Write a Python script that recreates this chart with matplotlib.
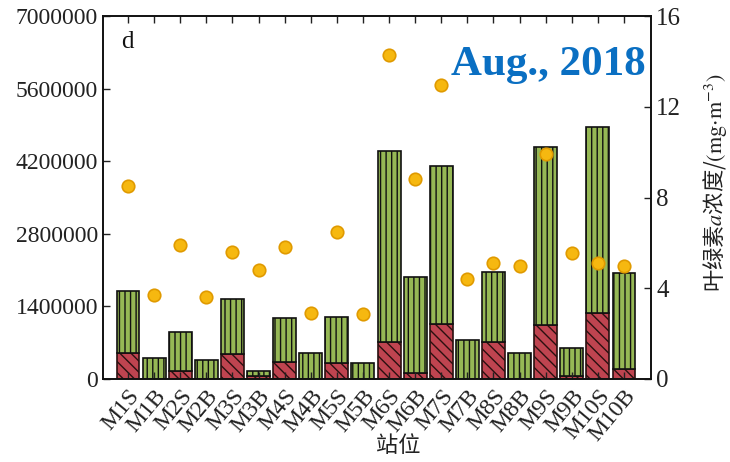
import matplotlib
matplotlib.use("Agg")
import matplotlib.pyplot as plt
import numpy as np

plt.rcParams['font.family'] = ['Liberation Serif', 'Noto Sans CJK SC']
plt.rcParams['mathtext.fontset'] = 'stix'
plt.rcParams['hatch.linewidth'] = 1.0

stations = ["M1S", "M1B", "M2S", "M2B", "M3S", "M3B", "M4S", "M4B", "M5S", "M5B",
            "M6S", "M6B", "M7S", "M7B", "M8S", "M8B", "M9S", "M9B", "M10S", "M10B"]
# total abundance (bar top) and lower (red hatched) part
total = [1700000, 400000, 910000, 370000, 1540000, 150000, 1180000, 500000, 1200000, 310000,
         4400000, 1970000, 4100000, 750000, 2060000, 500000, 4470000, 600000, 4860000, 2040000]
lower = [500000, 0, 150000, 0, 480000, 60000, 330000, 0, 300000, 0,
         710000, 110000, 1060000, 0, 710000, 0, 1040000, 50000, 1270000, 190000]
# chlorophyll a (mg/m3)
chla = [8.5, 3.7, 5.9, 3.6, 5.6, 4.8, 5.8, 2.9, 6.5, 2.85,
        14.3, 8.8, 12.95, 4.4, 5.1, 5.0, 9.9, 5.55, 5.1, 5.0]

x = np.arange(len(stations))
upper = np.array(total) - np.array(lower)

fig = plt.figure(figsize=(7.3, 4.62), dpi=100)
ax = fig.add_axes([0.141, 0.180, 0.751, 0.785])

ax.bar(x, lower, width=0.88, color='#bf4450', edgecolor='#2a1010',
       hatch='\\\\\\', linewidth=1.2)
ax.bar(x, upper, bottom=lower, width=0.88, color='#96b855', edgecolor='#111111',
       hatch='|||', linewidth=1.2)

ax.set_xlim(-0.96, 20.04)
ax.set_ylim(0, 7000000)
ax.set_yticks(np.arange(0, 7000001, 1400000))
ax.set_yticklabels(["%d" % v for v in np.arange(0, 7000001, 1400000)])
ax.set_xticks(x)
ax.set_xticklabels(stations, rotation=50, ha='right', rotation_mode='anchor')
ax.tick_params(axis='both', direction='in', labelsize=17, colors='#222222',
               length=5, width=1, top=True)
ax.tick_params(axis='x', labelsize=17, pad=5)

ax2 = ax.twinx()
ax2.plot(x, chla, 'o', markersize=9, markerfacecolor='#f6b810',
         markeredgecolor='#e09a00', markeredgewidth=1.2)
ax2.set_ylim(0, 16)
ax2.set_yticks([0, 4, 8, 12, 16])
ax2.tick_params(axis='y', direction='in', labelsize=18, colors='#222222', length=5, width=1)
ax2.set_ylabel(r"叶绿素$a$浓度/$(\mathrm{mg{\cdot}m^{-3}})$", fontsize=16,
               family='Noto Sans CJK SC', color='#222222')
ax2.yaxis.set_label_coords(1.09, 0.54)

for a in (ax, ax2):
    for s in a.spines.values():
        s.set_linewidth(1.2)
        s.set_color('#111111')

fig.text(398 / 730, 1 - 447 / 462, "站位", fontsize=16, color='#222222',
         ha='center', va='center')
ax.text(0.045, 0.93, "d", transform=ax.transAxes, fontsize=18, color='#111111',
        ha='center', va='center')
ax.text(0.99, 0.865, "Aug., 2018", transform=ax.transAxes, fontsize=31,
        fontweight='bold', color='#0a6fc2', ha='right', va='center')

fig.savefig("out.png", dpi=100)
